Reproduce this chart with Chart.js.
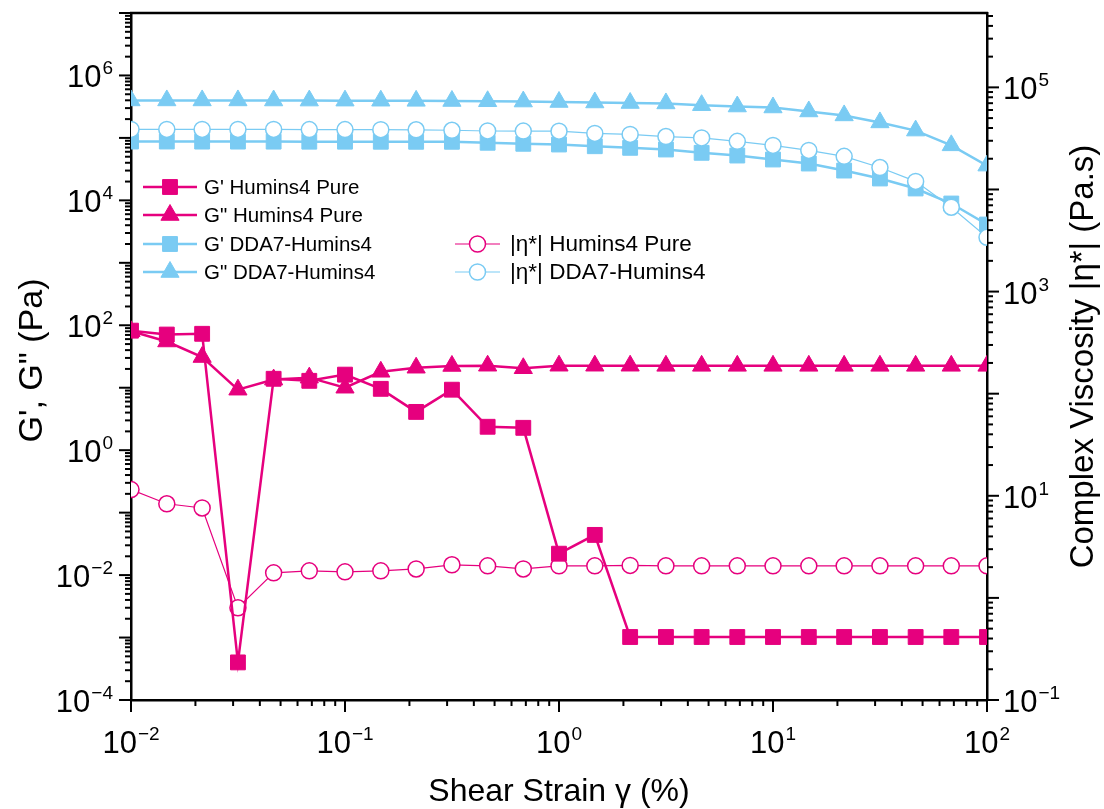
<!DOCTYPE html>
<html>
<head>
<meta charset="utf-8">
<title>Strain sweep</title>
<script src="https://cdn.jsdelivr.net/npm/chart.js@4.4.1/dist/chart.umd.min.js"></script>
<style>
  html, body { margin: 0; padding: 0; background: #fff; }
  #wrap { width: 1104px; height: 809px; }
</style>
</head>
<body>
<div id="wrap"><canvas id="chart" width="1104" height="809"></canvas></div>
<script>
// shear strain (%) of each measured point
const STRAIN = [
  0.01, 0.0147, 0.0215, 0.0316, 0.0464, 0.0681,
  0.1, 0.147, 0.215, 0.316, 0.464, 0.681,
  1, 1.47, 2.15, 3.16, 4.64, 6.81,
  10, 14.7, 21.5, 31.6, 46.4, 68.1, 100,
];

// Humins4 Pure (Pa, Pa.s)
const G1_PURE = [
  82, 71, 73, 0.0004, 13.9, 12.9, 16.2, 9.6, 4.1, 9.3, 2.37, 2.28,
  0.022, 0.044, 0.00102, 0.00102, 0.00102, 0.00102, 0.00102, 0.00102,
  0.00102, 0.00102, 0.00102, 0.00102, 0.00102,
];
const G2_PURE = [
  80, 55, 31, 9.3, 13.5, 14.5, 10.0, 18.0, 20.9, 22.3, 22.5, 20.5,
  22.5, 22.5, 22.5, 22.4, 22.4, 22.4, 22.4, 22.4, 22.4, 22.4, 22.4, 22.4, 22.4,
];
const ETA_PURE = [
  11.5, 8.35, 7.6, 0.8, 1.76, 1.84, 1.8, 1.84, 1.92, 2.11, 2.06, 1.92,
  2.06, 2.06, 2.08, 2.06, 2.06, 2.06, 2.06, 2.06, 2.06, 2.06, 2.06, 2.06, 2.06,
];

// DDA7-Humins4 (Pa, Pa.s)
const G1_DDA = [
  87500, 87500, 87300, 87300, 87200, 87000, 87000, 86800, 86700, 86700,
  83600, 80500, 78400, 73600, 69400, 65200, 57700, 52200, 45100, 38900,
  30000, 22400, 15500, 8900, 4100,
];
const G2_DDA = [
  398000, 398000, 398000, 398000, 397000, 396000, 395000, 394000, 392000,
  390000, 386000, 382000, 376000, 369000, 362000, 356000, 334000, 318000,
  307000, 265000, 229000, 177000, 131000, 76000, 36000,
];
const ETA_DDA = [
  38700, 38700, 38700, 38700, 38700, 38600, 38600, 38500, 38400, 38000,
  37400, 37300, 37200, 35400, 34600, 33000, 32000, 29600, 27000, 24100,
  21100, 16400, 12000, 6700, 3400,
];

// decades that carry a label on each axis
const X_LABEL_EXP = [-2, -1, 0, 1, 2];
const Y_LABEL_EXP = [-4, -2, 0, 2, 4, 6];
const Y2_LABEL_EXP = [-1, 1, 3, 5];

const PINK = "#E6007E";
const BLUE = "#7ACBF3";
const FONT = "Arial, 'Liberation Sans', sans-serif";

function pairs(ys) {
  return STRAIN.map((x, i) => ({ x, y: ys[i] }));
}

function modulusSet(label, data, color, shape, order) {
  return {
    label,
    data: pairs(data),
    yAxisID: "y",
    borderColor: color,
    backgroundColor: color,
    borderWidth: 2.5,
    pointStyle: shape,
    pointRadius: 10.5,
    pointBorderWidth: 1,
    pointBorderColor: color,
    pointBackgroundColor: color,
    tension: 0,
    clip: 0,
    order,
  };
}

function viscositySet(label, data, color, order) {
  return {
    label,
    data: pairs(data),
    yAxisID: "y2",
    borderColor: color,
    backgroundColor: "#fff",
    borderWidth: 1.2,
    pointStyle: "circle",
    pointRadius: 8,
    pointBorderWidth: 1.5,
    pointBorderColor: color,
    pointBackgroundColor: "#fff",
    tension: 0,
    clip: 0,
    order,
  };
}

// 1..9 x 10^n ticks between min and max
function logTicks(scale) {
  const ticks = [];
  const lo = Math.floor(Math.log10(scale.min));
  const hi = Math.ceil(Math.log10(scale.max));
  for (let e = lo; e <= hi; e++) {
    for (let m = 1; m <= 9; m++) {
      const v = m * Math.pow(10, e);
      if (v >= scale.min * 0.999 && v <= scale.max * 1.001) {
        ticks.push({ value: v, major: m === 1 });
      }
    }
  }
  scale.ticks = ticks;
}

function drawPow(ctx, exp, x, y, align) {
  const base = "10";
  const sup = exp < 0 ? "\u2212" + Math.abs(exp) : String(exp);
  ctx.font = `31px ${FONT}`;
  const wb = ctx.measureText(base).width;
  ctx.font = `19px ${FONT}`;
  const ws = ctx.measureText(sup).width;
  const total = wb + ws + 1;
  let left = x;
  if (align === "right") left = x - total;
  if (align === "center") left = x - total / 2;
  ctx.textAlign = "left";
  ctx.textBaseline = "alphabetic";
  ctx.font = `31px ${FONT}`;
  ctx.fillText(base, left, y);
  ctx.font = `19px ${FONT}`;
  ctx.fillText(sup, left + wb + 1, y - 13);
}

function legendRow(ctx, ds, x0, x1, y, textX, size) {
  ctx.save();
  ctx.strokeStyle = ds.borderColor;
  ctx.lineWidth = ds.borderWidth;
  ctx.beginPath();
  ctx.moveTo(x0, y);
  ctx.lineTo(x1, y);
  ctx.stroke();
  ctx.fillStyle = ds.pointBackgroundColor;
  ctx.strokeStyle = ds.pointBorderColor;
  ctx.lineWidth = ds.pointBorderWidth;
  Chart.helpers.drawPoint(ctx, { pointStyle: ds.pointStyle, radius: ds.pointRadius, rotation: 0, borderWidth: ds.pointBorderWidth }, (x0 + x1) / 2, y);
  ctx.fillStyle = "#000";
  ctx.font = `${size}px ${FONT}`;
  ctx.textAlign = "left";
  ctx.textBaseline = "middle";
  ctx.fillText(ds.label, textX, y + 1);
  ctx.restore();
}

const frame = {
  id: "frame",
  afterDraw(chart) {
    const { ctx, chartArea: a, scales } = chart;
    ctx.save();
    ctx.strokeStyle = "#000";
    ctx.fillStyle = "#000";

    // top edge of the frame
    ctx.lineWidth = 2.5;
    ctx.beginPath();
    ctx.moveTo(a.left - 1, a.top);
    ctx.lineTo(a.right + 1, a.top);
    ctx.stroke();

    // outward tick marks
    ctx.lineWidth = 2;
    for (const t of scales.x.ticks) {
      const px = scales.x.getPixelForValue(t.value);
      ctx.beginPath();
      ctx.moveTo(px, a.bottom);
      ctx.lineTo(px, a.bottom + (t.major ? 12 : 6));
      ctx.stroke();
    }
    for (const t of scales.y.ticks) {
      const py = scales.y.getPixelForValue(t.value);
      ctx.beginPath();
      ctx.moveTo(a.left, py);
      ctx.lineTo(a.left - (t.major ? 12 : 6), py);
      ctx.stroke();
    }
    for (const t of scales.y2.ticks) {
      const py = scales.y2.getPixelForValue(t.value);
      ctx.beginPath();
      ctx.moveTo(a.right, py);
      ctx.lineTo(a.right + (t.major ? 12 : 6), py);
      ctx.stroke();
    }

    // power-of-ten labels
    for (const e of X_LABEL_EXP) {
      drawPow(ctx, e, scales.x.getPixelForValue(Math.pow(10, e)), a.bottom + 53, "center");
    }
    for (const e of Y_LABEL_EXP) {
      drawPow(ctx, e, a.left - 18, scales.y.getPixelForValue(Math.pow(10, e)) + 12, "right");
    }
    for (const e of Y2_LABEL_EXP) {
      drawPow(ctx, e, a.right + 16, scales.y2.getPixelForValue(Math.pow(10, e)) + 12, "left");
    }

    // axis titles
    ctx.font = `32px ${FONT}`;
    ctx.textAlign = "center";
    ctx.textBaseline = "alphabetic";
    ctx.fillText("Shear Strain \u03b3 (%)", (a.left + a.right) / 2, 801);
    ctx.save();
    ctx.translate(42, (a.top + a.bottom) / 2 + 4);
    ctx.rotate(-Math.PI / 2);
    ctx.font = `34px ${FONT}`;
    ctx.fillText("G', G\" (Pa)", 0, 0);
    ctx.restore();
    ctx.save();
    ctx.translate(1093, (a.top + a.bottom) / 2);
    ctx.rotate(-Math.PI / 2);
    ctx.font = `33px ${FONT}`;
    ctx.fillText("Complex Viscosity |\u03b7*| (Pa.s)", 0, 0);
    ctx.restore();

    // legends: moduli block on the left, viscosity block beside it
    const ds = chart.data.datasets;
    legendRow(ctx, ds[0], 143, 197, 187, 204, 20.5);
    legendRow(ctx, ds[1], 143, 197, 215, 204, 20.5);
    legendRow(ctx, ds[4], 143, 197, 244, 204, 20.5);
    legendRow(ctx, ds[5], 143, 197, 272, 204, 20.5);
    legendRow(ctx, ds[2], 455, 500, 244, 510, 22.5);
    legendRow(ctx, ds[3], 455, 500, 272, 510, 22.5);
    ctx.restore();
  },
};

function axis(position, min, max, size) {
  return {
    type: "logarithmic",
    position,
    min,
    max,
    grid: { display: false },
    border: { display: true, color: "#000", width: 2.5 },
    ticks: { display: false },
    afterBuildTicks: logTicks,
    afterFit(s) {
      if (position === "bottom") s.height = size;
      else s.width = size;
    },
  };
}

new Chart(document.getElementById("chart"), {
  type: "line",
  data: {
    datasets: [
      modulusSet("G' Humins4 Pure", G1_PURE, PINK, "rect", 1),
      modulusSet("G\" Humins4 Pure", G2_PURE, PINK, "triangle", 2),
      viscositySet("|\u03b7*| Humins4 Pure", ETA_PURE, PINK, 3),
      viscositySet("|\u03b7*| DDA7-Humins4", ETA_DDA, BLUE, 4),
      modulusSet("G' DDA7-Humins4", G1_DDA, BLUE, "rect", 5),
      modulusSet("G\" DDA7-Humins4", G2_DDA, BLUE, "triangle", 6),
    ],
  },
  options: {
    responsive: false,
    animation: false,
    devicePixelRatio: 1,
    layout: { padding: { top: 13, left: 0, right: 0, bottom: 0 } },
    plugins: { legend: { display: false }, tooltip: { enabled: false } },
    scales: {
      x: axis("bottom", 0.01, 100, 109),
      y: axis("left", 1e-4, 1e7, 131),
      y2: axis("right", 0.1, 5.35e5, 117),
    },
  },
  plugins: [frame],
});
</script>
</body>
</html>
